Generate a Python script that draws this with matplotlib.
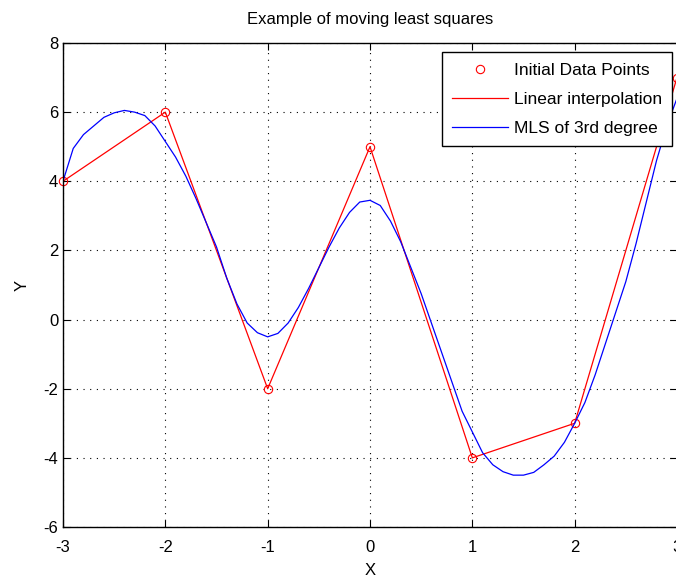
import matplotlib
matplotlib.use("Agg")
import matplotlib.pyplot as plt

plt.rcParams['font.family'] = ['Liberation Sans', 'DejaVu Sans']
plt.rcParams['axes.unicode_minus'] = False

# Initial data points
x_data = [-3, -2, -1, 0, 1, 2, 3]
y_data = [4, 6, -2, 5, -4, -3, 7]

# MLS curve
x_mls = [-3.0, -2.9, -2.8, -2.7, -2.6, -2.5, -2.4, -2.3, -2.2, -2.1,
         -2.0, -1.9, -1.8, -1.7, -1.6, -1.5, -1.4, -1.3, -1.2, -1.1,
         -1.0, -0.9, -0.8, -0.7, -0.6, -0.5, -0.4, -0.3, -0.2, -0.1,
         0.0, 0.1, 0.2, 0.3, 0.4, 0.5, 0.6, 0.7, 0.8, 0.9,
         1.0, 1.1, 1.2, 1.3, 1.4, 1.5, 1.6, 1.7, 1.8, 1.9,
         2.0, 2.1, 2.2, 2.3, 2.4, 2.5, 2.6, 2.7, 2.8, 2.9, 3.0]
y_mls = [4.0, 4.95, 5.35, 5.6, 5.85, 5.98, 6.05, 6.0, 5.9, 5.6,
         5.15, 4.7, 4.15, 3.5, 2.8, 2.1, 1.2, 0.45, -0.1, -0.38,
         -0.5, -0.4, -0.1, 0.35, 0.9, 1.5, 2.1, 2.65, 3.1, 3.4,
         3.45, 3.3, 2.85, 2.25, 1.5, 0.75, -0.1, -0.95, -1.8, -2.65,
         -3.25, -3.85, -4.2, -4.4, -4.5, -4.5, -4.42, -4.2, -3.95, -3.55,
         -3.0, -2.4, -1.6, -0.7, 0.2, 1.1, 2.2, 3.4, 4.6, 5.6, 6.4]

fig = plt.figure(figsize=(6.76, 5.76), dpi=100)
ax = fig.add_axes([63 / 676, 49 / 576, 614 / 676, 484 / 576])

ax.plot(x_data, y_data, 'o', color='red', mfc='none', ms=6, mew=0.8,
        label='Initial Data Points', clip_on=False)
ax.plot(x_data, y_data, '-', color='red', lw=0.9, label='Linear interpolation')
ax.plot(x_mls, y_mls, '-', color='blue', lw=0.9, label='MLS of 3rd degree')

ax.set_xlim(-3, 3)
ax.set_ylim(-6, 8)
ax.set_xticks(range(-3, 4))
ax.set_yticks(range(-6, 9, 2))
ax.grid(True, linestyle=(0, (1, 5)), color='black', linewidth=0.8)
ax.tick_params(direction='in', top=True, right=True, labelsize=12, length=5)
ax.tick_params(axis='x', pad=9)
for s in ax.spines.values():
    s.set_linewidth(1.0)

ax.set_title('Example of moving least squares', fontsize=12, pad=14)
ax.set_xlabel('X', fontsize=12, labelpad=6)
ax.set_ylabel('Y', fontsize=12, labelpad=10)

leg = ax.legend(loc='upper right', bbox_to_anchor=(0.992, 0.981), borderaxespad=0,
                fontsize=12.5, fancybox=False, framealpha=1, edgecolor='black',
                borderpad=0.6, handlelength=3.2, handletextpad=0.34, labelspacing=0.8)
leg.get_frame().set_linewidth(1.0)

plt.savefig("out.png", dpi=100)
